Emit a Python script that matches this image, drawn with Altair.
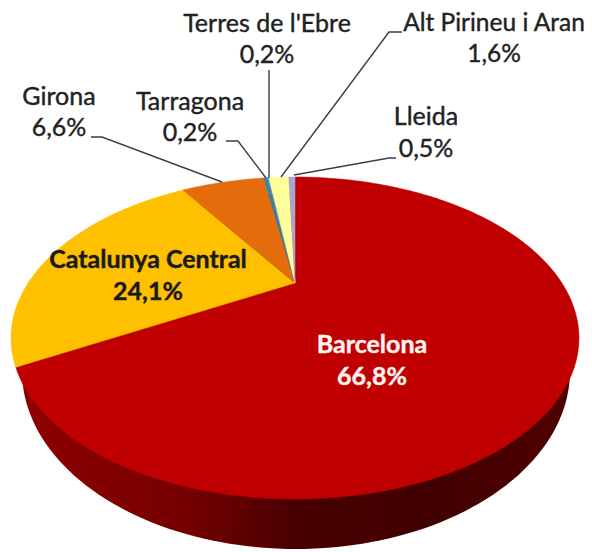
import math
import altair as alt

# ---- values
regions = ["Barcelona", "Catalunya Central", "Girona", "Tarragona",
           "Terres de l'Ebre", "Alt Pirineu i Aran", "Lleida"]
shares = [66.8, 24.1, 6.6, 0.2, 0.2, 1.6, 0.5]
share_labels = ["66,8%", "24,1%", "6,6%", "0,2%", "0,2%", "1,6%", "0,5%"]
colors = ["#c00000", "#ffc000", "#e46c0a", "#31859c", "#4f81bd", "#ffff99", "#a9a4d0"]

# ---- layout (page pixels minus the 8px margin are applied below)
OFF = 8
APEX = (295, 283)
A, B, K = 266.9, 142.2, 0.3416      # perspective of the tilted disc
RIM_C, RIM_R = (296, 371), (274, 178)
label_pos = {
    "Barcelona": (372, 345, 377, "#fff4f0", 700, 25),
    "Catalunya Central": (148, 260, 292, "#1a1a1a", 700, 25),
    "Girona": (59, 97, 128, "#222222", 400, 25),
    "Tarragona": (190, 102, 133, "#222222", 400, 25),
    "Terres de l'Ebre": (267, 24, 55, "#222222", 400, 25),
    "Alt Pirineu i Aran": (494, 24, 55, "#222222", 400, 24.5),
    "Lleida": (426, 117, 149, "#222222", 400, 25),
}
leaders = [
    [(91, 137), (102, 137), (222, 182)],
    [(226, 141), (238, 141), (266, 178)],
    [(269, 70), (269, 178)],
    [(402, 32), (389, 32), (281, 177)],
    [(396, 158), (389, 158), (294, 175)],
]


def rim_point(theta):
    """Point on the disc's edge, theta in degrees clockwise from 12 o'clock."""
    u, v = math.sin(math.radians(theta)), math.cos(math.radians(theta))
    w = 1 + K * v
    return [APEX[0] + A * u / w - OFF, APEX[1] - B * v / w - OFF]


features = []
start = 0.0
for name, share in zip(regions, shares):
    end = start + share * 3.6
    n = max(2, int(share * 3.6) + 1)
    ring = [[APEX[0] - OFF, APEX[1] - OFF]]
    ring += [rim_point(start + (end - start) * i / n) for i in range(n + 1)]
    ring.append(ring[0])
    features.append({"type": "Feature", "properties": {"name": name},
                     "geometry": {"type": "Polygon", "coordinates": [ring]}})
    start = end

rim_ring = [[RIM_C[0] + RIM_R[0] * math.cos(math.radians(t)) - OFF,
             RIM_C[1] + RIM_R[1] * math.sin(math.radians(t)) - OFF] for t in range(0, 361, 2)]
rim_feature = {"type": "Feature", "properties": {"name": "rim"},
               "geometry": {"type": "Polygon", "coordinates": [rim_ring]}}
line_features = [{"type": "Feature", "properties": {"i": i},
                  "geometry": {"type": "LineString",
                               "coordinates": [[x - OFF, y - OFF] for x, y in pts]}}
                 for i, pts in enumerate(leaders)]

proj = dict(type="identity", scale=1, translate=[0, 0])

rim = alt.Chart(alt.Data(values=[rim_feature])).mark_geoshape(
    fill=alt.LinearGradient(gradient="linear", x1=0, x2=1, y1=0, y2=0, stops=[
        alt.GradientStop(offset=0, color="#8f0000"),
        alt.GradientStop(offset=0.3, color="#750000"),
        alt.GradientStop(offset=0.5, color="#480000"),
        alt.GradientStop(offset=0.75, color="#420000"),
        alt.GradientStop(offset=1, color="#500000"),
    ]), strokeWidth=0).project(**proj)

slices = alt.Chart(alt.Data(values=features)).mark_geoshape(strokeWidth=0.5).encode(
    fill=alt.Fill("properties.name:N", scale=alt.Scale(domain=regions, range=colors), legend=None),
    stroke=alt.Stroke("properties.name:N", scale=alt.Scale(domain=regions, range=colors), legend=None),
).project(**proj)

lines = alt.Chart(alt.Data(values=line_features)).mark_geoshape(
    filled=False, stroke="#3a3f44", strokeWidth=1.4).project(**proj)

layers = [rim, slices, lines]
for name, label in zip(regions, share_labels):
    x, y1, y2, col, weight, size = label_pos[name]
    for text, y in ((name, y1), (label, y2)):
        layers.append(
            alt.Chart(alt.Data(values=[{"t": text}])).mark_text(
                font="Lato", fontSize=size, fontWeight=weight, color=col,
                stroke=col, strokeWidth=0.4,
                align="center", baseline="middle",
            ).encode(text="t:N", x=alt.value(x - OFF), y=alt.value(y - OFF))
        )

chart = alt.layer(*layers).properties(
    width=576, height=544, padding=0, autosize=alt.AutoSizeParams(type="none")
).configure_view(stroke=None)
chart.save("out.html", embed_options={"renderer": "svg", "actions": False})
